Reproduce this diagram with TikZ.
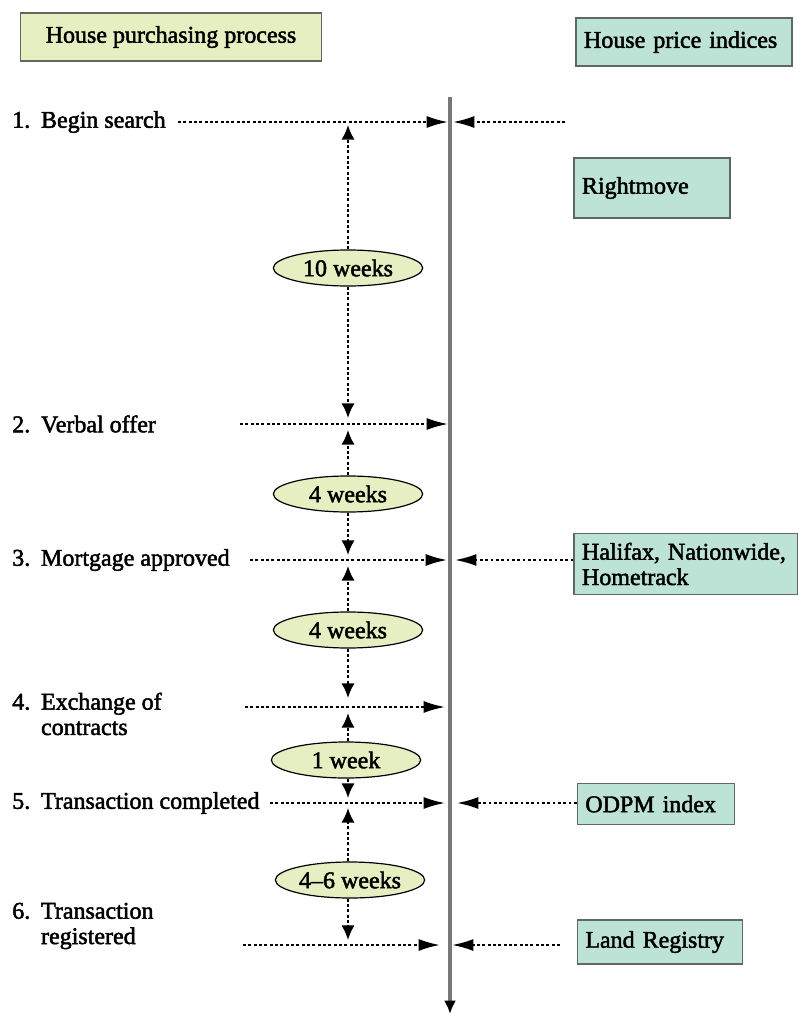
\documentclass[tikz,border=0pt]{standalone}
\usepackage{fontspec}
\setmainfont{Liberation Serif}[FakeBold=2]
\usepackage{xcolor}
\usetikzlibrary{shapes,positioning,arrows.meta}
\definecolor{purchgreen}{RGB}{230,239,194}
\definecolor{indexteal}{RGB}{188,227,214}
\definecolor{boxline}{RGB}{95,105,95}
\definecolor{axisgray}{RGB}{120,120,120}
\newcommand{\stepno}[1]{#1.\hspace{0.45em}}
\tikzset{purchbox/.style={draw=boxline,fill=purchgreen,line width=0.8pt,inner sep=0pt},
         indexbox/.style={draw=boxline,fill=indexteal,line width=0.8pt,text width=#1,align=left,inner xsep=6pt,inner ysep=0pt},
         weekell/.style={ellipse,draw=black,fill=purchgreen,line width=0.9pt,minimum width=112pt,minimum height=27pt,inner sep=0pt},
         stepnode/.style={anchor=west,align=left,inner sep=0pt},
         dotarrow/.style={line width=1.5pt,dash pattern=on 2.2pt off 1.8pt,-{Latex[length=16pt,width=9pt]}},
         vdotarrow/.style={line width=1.5pt,dash pattern=on 2.2pt off 1.8pt,-{Latex[length=11pt,width=10pt]}},
         axisline/.style={draw=axisgray,line width=2.4pt,-{Latex[length=10pt,width=9pt,black]}}}

\begin{document}
\begin{tikzpicture}[x=0.75pt,y=-0.75pt,font=\fontsize{18}{19}\selectfont]
            \useasboundingbox (0,0) rectangle (797,1016);
            % headings
            \node[purchbox,minimum width=226pt,minimum height=36pt] (hpp) at (171,37) {House purchasing process};
            \node[indexbox=150pt,minimum height=36pt] (hpi) at (684,42) {House price indices};
            % index boxes
            \node[indexbox=105pt,minimum height=45pt] (rmove) at (652,188) {Rightmove};
            \node[indexbox=156pt,minimum height=46pt] (hnh) at (686,564) {Halifax, Nationwide,\\Hometrack};
            \node[indexbox=106pt,minimum height=31pt] (odpm) at (656,804) {ODPM index};
            \node[indexbox=112pt,minimum height=33pt] (landreg) at (660,942) {Land Registry};
            % steps
            \node[stepnode] (s1) at (12,122) {\stepno{1}Begin search};
            \node[stepnode] (s2) at (12,424) {\stepno{2}Verbal offer};
            \node[stepnode] (s3) at (12,560) {\stepno{3}Mortgage approved};
            \node[stepnode] (s4) at (12,714) {\stepno{4}Exchange of\\\phantom{\stepno{4}}contracts};
            \node[stepnode] (s5) at (12,803) {\stepno{5}Transaction completed};
            \node[stepnode] (s6) at (12,926) {\stepno{6}Transaction\\\phantom{\stepno{6}}registered};
            % durations
            \node[weekell] (e1) at (348,268) {10 weeks};
            \node[weekell] (e2) at (348,494) {4 weeks};
            \node[weekell] (e3) at (348,630) {4 weeks};
            \node[weekell] (e4) at (346,760) {1 week};
            \node[weekell] (e5) at (350,880) {4--6 weeks};
            % time axis
            \coordinate (axtop) at (450,97);
            \coordinate (axbot) at (450,1014);
            \draw[axisline] (axtop) -- (axbot);
            % arrow ends
            \coordinate (b1) at (178,122); \coordinate (t1) at (448,122);
            \coordinate (c1) at (565,122); \coordinate (u1) at (453,122);
            \coordinate (b2) at (240,424); \coordinate (t2) at (448,424);
            \coordinate (b3) at (250,560); \coordinate (t3) at (447,560);
            \coordinate (u3) at (455,560);
            \coordinate (b4) at (245,707); \coordinate (t4) at (445,707);
            \coordinate (b5) at (270,803); \coordinate (t5) at (445,803);
            \coordinate (u5) at (457,803);
            \coordinate (b6) at (243,945); \coordinate (t6) at (440,945);
            \coordinate (c6) at (560,945); \coordinate (u6) at (452,945);
            \coordinate (v1a) at (348,125); \coordinate (v1b) at (348,418);
            \coordinate (v2a) at (348,430); \coordinate (v2b) at (348,555);
            \coordinate (v3a) at (348,566); \coordinate (v3b) at (348,698);
            \coordinate (v4a) at (348,713); \coordinate (v4b) at (348,798);
            \coordinate (v5a) at (348,808); \coordinate (v5b) at (348,940);
            % process to axis
            \draw[dotarrow] (b1) -- (t1);
            \draw[dotarrow] (b2) -- (t2);
            \draw[dotarrow] (b3) -- (t3);
            \draw[dotarrow] (b4) -- (t4);
            \draw[dotarrow] (b5) -- (t5);
            \draw[dotarrow] (b6) -- (t6);
            % indices to axis
            \draw[dotarrow] (c1) -- (u1);
            \draw[dotarrow] (hnh.west |- u3) -- (u3);
            \draw[dotarrow] (odpm.west |- u5) -- (u5);
            \draw[dotarrow] (c6) -- (u6);
            % durations
            \draw[vdotarrow] (e1.north -| v1a) -- (v1a);
            \draw[vdotarrow] (e1.south -| v1b) -- (v1b);
            \draw[vdotarrow] (e2.north -| v2a) -- (v2a);
            \draw[vdotarrow] (e2.south -| v2b) -- (v2b);
            \draw[vdotarrow] (e3.north -| v3a) -- (v3a);
            \draw[vdotarrow] (e3.south -| v3b) -- (v3b);
            \draw[vdotarrow] (e4.north -| v4a) -- (v4a);
            \draw[vdotarrow] (e4.south -| v4b) -- (v4b);
            \draw[vdotarrow] (e5.north -| v5a) -- (v5a);
            \draw[vdotarrow] (e5.south -| v5b) -- (v5b);
        \end{tikzpicture}
\end{document}
